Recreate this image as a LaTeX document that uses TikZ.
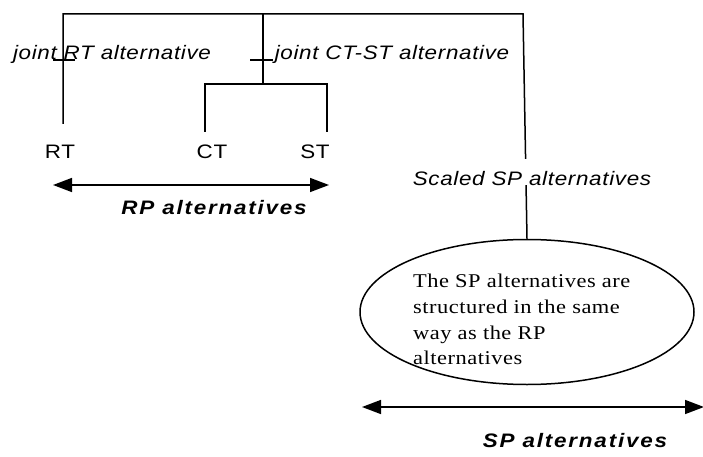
\documentclass[tikz,border=0pt]{standalone}
\usepackage{fontspec}
\usepackage{graphicx}
\setmainfont{Liberation Serif}
\newfontfamily\lblfont[LetterSpace=3]{Liberation Sans}
\newfontfamily\boldlblfont[LetterSpace=8]{Liberation Sans}
\newfontfamily\ellfont[LetterSpace=2.3]{Liberation Serif}
\newcommand{\widen}[1]{\scalebox{1.15}[1]{#1}}
\usetikzlibrary{arrows.meta,shapes.geometric}
\tikzset{
  wire/.style={line width=1.5pt},
  dbl/.style={line width=1.5pt,{Triangle[length=19pt,width=14pt]}-{Triangle[length=19pt,width=14pt]}},
  itlabel/.style={inner sep=0pt,anchor=base,font=\lblfont\itshape\fontsize{19.5}{23}\selectfont},
  uplabel/.style={inner sep=0pt,anchor=base,font=\lblfont\fontsize{19.5}{23}\selectfont},
  bilabel/.style={inner sep=0pt,anchor=base,font=\boldlblfont\bfseries\itshape\fontsize{19.5}{23}\selectfont},
  tick/.style={line width=1.5pt}
}
\begin{document}
\begin{tikzpicture}[x=1pt,y=-1pt]
\useasboundingbox (0,0) rectangle (703,457);
% tree coordinates
\coordinate (tl) at (63,14);
\coordinate (tm) at (263,14);
\coordinate (tr) at (523,14);
\coordinate (lend) at (63,124);
\coordinate (mj) at (263,84);
\coordinate (cj) at (205,84);
\coordinate (sj) at (327,84);
\coordinate (cend) at (205,132);
\coordinate (send) at (327,132);
% labels
\node[itlabel] (jrt) at (112,60) {\widen{joint RT alternative}};
\node[itlabel] (jcs) at (392,60) {\widen{joint CT-ST alternative}};
\node[uplabel] (rt) at (60,159) {\widen{RT}};
\node[uplabel] (ct) at (212,159) {\widen{CT}};
\node[uplabel] (st) at (315,159) {\widen{ST}};
% ellipse
\node[draw,ellipse,line width=1.5pt,minimum width=334pt,minimum height=145pt,inner sep=0pt] (ell) at (527,312) {};
\node[inner sep=0pt,anchor=north west,align=left,font=\ellfont\fontsize{19.5}{25.7}\selectfont] (etext) at (413,274)
  {\widen{The SP alternatives are}\\\widen{structured in the same}\\\widen{way as the RP}\\\widen{alternatives}};
% tree lines
\draw[wire] (lend) -- (tl) -- (tr) -- (ell.north);
\draw[wire] (tm) -- (mj);
\draw[wire] (cend) -- (cj) -- (sj) -- (send);
% ticks
\coordinate (t1a) at (53,60); \coordinate (t1b) at (75,60);
\coordinate (t2a) at (250,60); \coordinate (t2b) at (273,60);
\draw[tick] (t1a) -- (t1b);
\draw[tick] (t2a) -- (t2b);
% scaled label
\node[itlabel,fill=white,text height=26pt,text depth=0pt,inner xsep=0pt] (ssp) at (532,185) {\widen{Scaled SP alternatives}};
% arrows
\coordinate (rpa) at (53,185); \coordinate (rpb) at (329,185);
\draw[dbl] (rpa) -- (rpb);
\node[bilabel] (rpl) at (214,214) {\widen{RP alternatives}};
\coordinate (spa) at (362,407); \coordinate (spb) at (704,407);
\draw[dbl] (spa) -- (spb);
\node[bilabel] (spl) at (575,447) {\widen{SP alternatives}};
\end{tikzpicture}
\end{document}
